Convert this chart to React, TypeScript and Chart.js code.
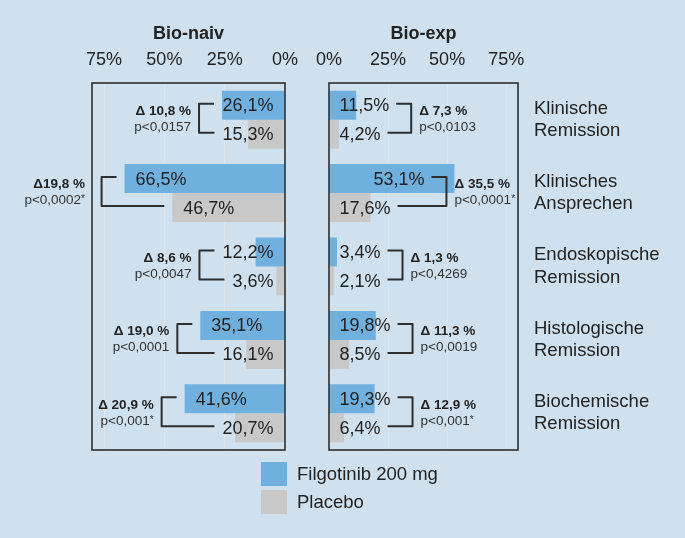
import React, { useEffect, useRef } from "react";
import { Chart, registerables } from "chart.js";

Chart.register(...registerables);

// ---------- data ----------
const categories = [
  ["Klinische", "Remission"],
  ["Klinisches", "Ansprechen"],
  ["Endoskopische", "Remission"],
  ["Histologische", "Remission"],
  ["Biochemische", "Remission"],
];
const seriesLabels = ["Filgotinib 200 mg", "Placebo"];
const panelTitles = ["Bio-naiv", "Bio-exp"];
const tickValues = [0, 25, 50, 75];

const naivFilgotinib = [26.1, 66.5, 12.2, 35.1, 41.6];
const naivPlacebo = [15.3, 46.7, 3.6, 16.1, 20.7];
const expFilgotinib = [11.5, 53.1, 3.4, 19.8, 19.3];
const expPlacebo = [4.2, 17.6, 2.1, 8.5, 6.4];

const naivDelta = ["Δ 10,8 %", "Δ19,8 %", "Δ 8,6 %", "Δ 19,0 %", "Δ 20,9 %"];
const naivP = ["p<0,0157", "p<0,0002*", "p<0,0047", "p<0,0001", "p<0,001*"];
const expDelta = ["Δ 7,3 %", "Δ 35,5 %", "Δ 1,3 %", "Δ 11,3 %", "Δ 12,9 %"];
const expP = ["p<0,0103", "p<0,0001*", "p<0,4269", "p<0,0019", "p<0,001*"];

// ---------- styles ----------
const FONT = "'Liberation Sans', Arial, Helvetica, sans-serif";
const BG = "#cfe1ee";
const BLUE = "#6fb0de";
const GREY = "#c8c8c8";
const GRID = "#e0e4e8";
const TEXT = "#222222";
const LINE = "#2e2e2e";

Chart.defaults.font.family = FONT;

const fmt = (v: number) => v.toFixed(1).replace(".", ",") + "%";

function measureP(ctx: any, txt: string) {
  const star = txt.endsWith("*");
  const main = star ? txt.slice(0, -1) : txt;
  ctx.font = `13.5px ${FONT}`;
  const wMain = ctx.measureText(main).width;
  ctx.font = `10px ${FONT}`;
  const wStar = star ? ctx.measureText("*").width : 0;
  return { main, star, wMain, total: wMain + wStar };
}

function drawP(ctx: any, txt: string, x: number, y: number, align: "left" | "right") {
  const m = measureP(ctx, txt);
  const left = align === "left" ? x : x - m.total;
  ctx.textAlign = "left";
  ctx.font = `13.5px ${FONT}`;
  ctx.fillText(m.main, left, y);
  if (m.star) {
    ctx.font = `10px ${FONT}`;
    ctx.fillText("*", left + m.wMain, y - 1);
  }
}

function annotate(chart: any, side: "left" | "right", deltas: string[], ps: string[]) {
  const ctx = chart.ctx;
  const area = chart.chartArea;
  const m0 = chart.getDatasetMeta(0);
  const m1 = chart.getDatasetMeta(1);
  const ds0 = chart.data.datasets[0].data as number[];
  const ds1 = chart.data.datasets[1].data as number[];
  ctx.save();
  ctx.textBaseline = "middle";
  for (let j = 0; j < ds0.length; j++) {
    const els = [m0.data[j], m1.data[j]];
    const vals = [ds0[j], ds1[j]];
    const arms: number[] = [];
    const ys: number[] = [];
    for (let k = 0; k < 2; k++) {
      const el: any = els[k];
      const txt = fmt(vals[k]);
      ctx.font = `18px ${FONT}`;
      const w = ctx.measureText(txt).width;
      const zero = el.base;
      let tx: number;
      if (side === "left") {
        tx = Math.min(el.x + 11, zero - 11 - w);
        arms.push(Math.min(tx, el.x) - 8);
      } else {
        tx = Math.max(zero + 10, el.x - 30 - w);
        arms.push(tx + w + 7);
      }
      ctx.fillStyle = TEXT;
      ctx.textAlign = "left";
      ctx.fillText(txt, tx, el.y + 1);
      ys.push(el.y - 1.5);
    }
    // bracket
    let vx: number;
    if (side === "left") vx = Math.min(arms[0], arms[1]) - 15;
    else vx = Math.max(arms[0], arms[1]) + 15;
    ctx.strokeStyle = LINE;
    ctx.lineWidth = 2;
    ctx.lineJoin = "round";
    ctx.beginPath();
    ctx.moveTo(arms[0], ys[0]);
    ctx.lineTo(vx, ys[0]);
    ctx.lineTo(vx, ys[1]);
    ctx.lineTo(arms[1], ys[1]);
    ctx.stroke();
    const cy = (ys[0] + ys[1]) / 2;
    ctx.font = `bold 13.5px ${FONT}`;
    const wd = ctx.measureText(deltas[j]).width;
    const wp = measureP(ctx, ps[j]).total;
    let tx = side === "left" ? vx - 8 : vx + 8;
    if (side === "left" && tx - Math.max(wd, wp) < area.left && tx > area.left - 7) {
      tx = area.left - 7;
    }
    ctx.textAlign = side === "left" ? "right" : "left";
    ctx.fillStyle = TEXT;
    ctx.font = `bold 13.5px ${FONT}`;
    ctx.fillText(deltas[j], tx, cy - 7);
    ctx.fillStyle = "#333";
    drawP(ctx, ps[j], tx, cy + 9, side === "left" ? "right" : "left");
  }
  ctx.restore();
}

function boxPlugin(id: string) {
  return {
    id,
    afterDraw(chart: any) {
      const { ctx, chartArea: a } = chart;
      ctx.save();
      ctx.strokeStyle = LINE;
      ctx.lineWidth = 1.6;
      ctx.strokeRect(a.left, a.top, a.right - a.left, a.bottom - a.top);
      ctx.restore();
    },
  };
}

const legendPlugin = {
  id: "customLegend",
  afterDraw(chart: any) {
    const ctx = chart.ctx;
    ctx.save();
    const x0 = 261;
    const rows = [462, 490];
    chart.data.datasets.forEach((ds: any, i: number) => {
      ctx.fillStyle = ds.backgroundColor;
      ctx.fillRect(x0, rows[i], 26, 24);
      ctx.fillStyle = TEXT;
      ctx.font = `18.5px ${FONT}`;
      ctx.textAlign = "left";
      ctx.textBaseline = "middle";
      ctx.fillText(ds.label, x0 + 36, rows[i] + 12.5);
    });
    ctx.restore();
  },
};

function xScale(title: string, reverse: boolean) {
  return {
    type: "linear",
    position: "top",
    reverse,
    min: 0,
    max: 80,
    afterFit: (s: any) => {
      s.height = 83;
    },
    afterBuildTicks: (s: any) => {
      s.ticks = tickValues.map((v) => ({ value: v }));
    },
    ticks: {
      callback: (v: any) => v + "%",
      font: { size: 18 },
      color: TEXT,
      padding: 12,
    },
    grid: { color: GRID, lineWidth: 1, drawTicks: false },
    border: { display: false },
    title: {
      display: true,
      text: title,
      color: TEXT,
      font: { size: 18, weight: "bold" },
      padding: { top: 23, bottom: 0 },
    },
  };
}

export default function App() {
  const leftRef = useRef<HTMLCanvasElement>(null);
  const rightRef = useRef<HTMLCanvasElement>(null);

  useEffect(() => {
    const common = {
      indexAxis: "y",
      animation: false,
      responsive: true,
      maintainAspectRatio: false,
      datasets: { bar: { categoryPercentage: 0.79, barPercentage: 1 } },
      plugins: { legend: { display: false }, tooltip: { enabled: false } },
    };

    const left = new Chart(leftRef.current as HTMLCanvasElement, {
      type: "bar",
      data: {
        labels: categories,
        datasets: [
          { label: seriesLabels[0], data: naivFilgotinib, backgroundColor: BLUE },
          { label: seriesLabels[1], data: naivPlacebo, backgroundColor: GREY },
        ],
      },
      options: {
        ...common,
        layout: { padding: { left: 92, right: 400, top: 0, bottom: 88 } },
        scales: {
          x: xScale(panelTitles[0], true),
          y: { type: "category", display: false },
        },
      } as any,
      plugins: [
        {
          id: "naivAnno",
          afterDatasetsDraw: (c: any) => annotate(c, "left", naivDelta, naivP),
        },
        boxPlugin("naivBox"),
        legendPlugin,
      ],
    } as any);

    const right = new Chart(rightRef.current as HTMLCanvasElement, {
      type: "bar",
      data: {
        labels: categories,
        datasets: [
          { label: seriesLabels[0], data: expFilgotinib, backgroundColor: BLUE },
          { label: seriesLabels[1], data: expPlacebo, backgroundColor: GREY },
        ],
      },
      options: {
        ...common,
        layout: { padding: { left: 29, right: 0, top: 0, bottom: 88 } },
        scales: {
          x: xScale(panelTitles[1], false),
          y: {
            type: "category",
            position: "right",
            afterFit: (s: any) => {
              s.width = 167;
            },
            grid: { display: false, drawTicks: false },
            border: { display: false },
            ticks: { font: { size: 18.5 }, color: TEXT, padding: 16 },
          },
        },
      } as any,
      plugins: [
        {
          id: "expAnno",
          afterDatasetsDraw: (c: any) => annotate(c, "right", expDelta, expP),
        },
        boxPlugin("expBox"),
      ],
    } as any);

    return () => {
      left.destroy();
      right.destroy();
    };
  }, []);

  return (
    <div
      style={{
        position: "absolute",
        left: 0,
        top: 0,
        width: 685,
        height: 538,
        background: BG,
        overflow: "hidden",
      }}
    >
      <div style={{ position: "absolute", left: 0, top: 0, width: 685, height: 538 }}>
        <canvas ref={leftRef} />
      </div>
      <div style={{ position: "absolute", left: 300, top: 0, width: 385, height: 538 }}>
        <canvas ref={rightRef} />
      </div>
    </div>
  );
}
